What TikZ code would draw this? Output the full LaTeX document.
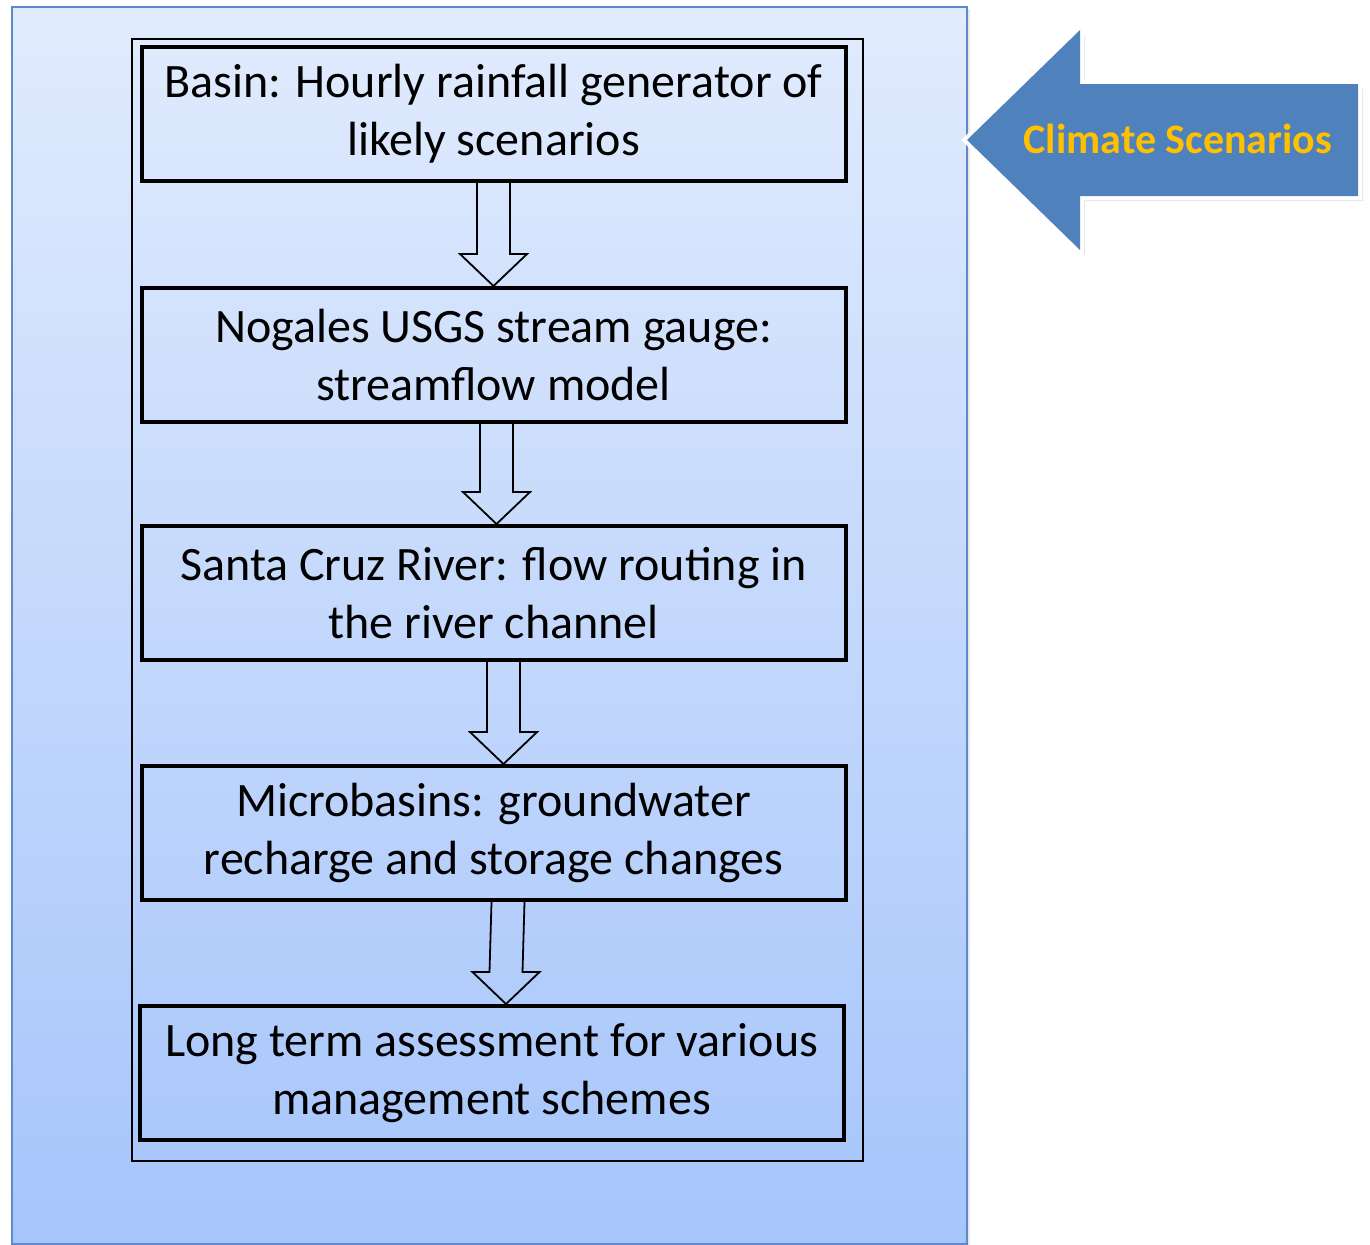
\documentclass[tikz,border=0pt]{standalone}
\usepackage{fontspec}
\setmainfont{Carlito}
\usetikzlibrary{calc,shadows}
\definecolor{bgtop}{RGB}{225,235,253}
\definecolor{bgbot}{RGB}{166,197,251}
\definecolor{outerline}{RGB}{95,137,203}
\definecolor{arrowblue}{RGB}{79,129,189}
\definecolor{gold}{RGB}{255,192,0}
\tikzset{
  stagebox/.style={draw=black, line width=2pt, minimum width=352pt, minimum height=67pt,
    align=center, inner sep=0pt, font=\fontsize{24}{29}\selectfont},
  blockarr/.style={draw=black, line width=0.9pt, line join=miter},
}
\newcommand\dnarrow[3]{%
  \draw[blockarr] ($(#1.south)+(#3-16.5,0)$) -- ($(#2.north)+(#3-16.5,-32)$)
    -- ($(#2.north)+(#3-33.5,-32)$) -- ($(#2.north)+(#3,0)$)
    -- ($(#2.north)+(#3+33.5,-32)$) -- ($(#2.north)+(#3+16.5,-32)$)
    -- ($(#1.south)+(#3+16.5,0)$);}
\begin{document}
\begin{tikzpicture}[x=0.5pt,y=-0.5pt]
\useasboundingbox (0,0) rectangle (1370,1244);
% outer panel
\node (outer) [draw=outerline, line width=0.8pt, top color=bgtop, bottom color=bgbot,
  minimum width=477.5pt, minimum height=618.5pt, inner sep=0pt,
  drop shadow={shadow xshift=1.5pt, shadow yshift=-1pt, opacity=0.18}] at (489.5,625.5) {};
% inner frame
\node (frame) [draw=black, line width=0.7pt, minimum width=365.5pt, minimum height=561pt,
  inner sep=0pt] at (497.5,600) {};
% stage boxes
\node (b1) [stagebox] at (493.5,113.5) {Basin: Hourly rainfall generator of\\likely scenarios};
\node (b2) [stagebox] at (493.5,355) {Nogales USGS stream gauge:\\streamflow model};
\node (b3) [stagebox] at (493.5,593) {Santa Cruz River: flow routing in\\the river channel};
\node (b4) [stagebox] at (493.5,833) {Microbasins: groundwater\\recharge and storage changes};
\node (b5) [stagebox] at (491.5,1073) {Long term assessment for various\\management schemes};
% block arrows
\dnarrow{b1}{b2}{0}
\dnarrow{b2}{b3}{3}
\dnarrow{b3}{b4}{10}
\dnarrow{b4}{b5}{14.5}
% climate arrow: shadow, white outline, then blue fill
\fill[black, opacity=0.10]
  (972,145) -- (1085,35) -- (1085,89) -- (1363,89) -- (1363,201) -- (1085,201) -- (1085,255) -- cycle;
\draw[draw=white, fill=white, line width=4pt, line join=miter, miter limit=20]
  (967,140) -- (1080,30) -- (1080,84) -- (1358,84) -- (1358,196) -- (1080,196) -- (1080,250) -- cycle;
\fill[arrowblue]
  (967,140) -- (1080,30) -- (1080,84) -- (1358,84) -- (1358,196) -- (1080,196) -- (1080,250) -- cycle;
\node (climate) [text=gold, font=\fontsize{21}{25}\bfseries\selectfont] at (1178,139) {Climate Scenarios};
\end{tikzpicture}
\end{document}
